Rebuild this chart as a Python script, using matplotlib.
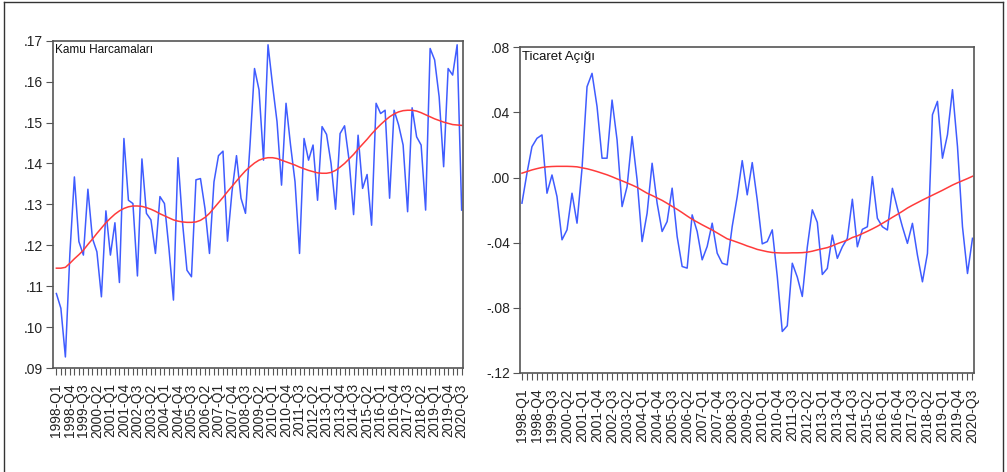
import matplotlib
matplotlib.use('Agg')
import matplotlib.pyplot as plt
from matplotlib.lines import Line2D
import numpy as np

plt.rcParams['font.family'] = ['Liberation Sans', 'DejaVu Sans']

quarters = [f"{y}-Q{q}" for y in range(1998, 2021) for q in range(1, 5)][:91]

kamu = [.1082, .1046, .0927, .1180, .1367, .1209, .1176, .1337, .1217, .1184,
        .1074, .1284, .1176, .1255, .1109, .1461, .1310, .1302, .1125, .1411,
        .1278, .1262, .1180, .1319, .1302, .1192, .1066, .1414, .1257, .1139,
        .1123, .1360, .1363, .1290, .1180, .1355, .1419, .1430, .1210, .1331,
        .1419, .1315, .1278, .1445, .1632, .1580, .1408, .1690, .1592, .1502,
        .1347, .1547, .1445, .1355, .1180, .1461, .1408, .1445, .1310, .1490,
        .1471, .1400, .1288, .1473, .1492, .1408, .1275, .1469, .1339, .1373,
        .1249, .1547, .1522, .1530, .1315, .1530, .1494, .1445, .1282, .1536,
        .1465, .1445, .1286, .1681, .1653, .1563, .1392, .1632, .1616, .1690,
        .1286]

kamu_trend = [.1144, .1144, .1146, .1156, .1167, .1177, .1188, .1202, .1215, .1229,
              .1242, .1255, .1266, .1276, .1284, .1290, .1294, .1296, .1296, .1295,
              .1292, .1288, .1283, .1277, .1272, .1267, .1262, .1259, .1257, .1256,
              .1256, .1257, .1261, .1268, .1278, .1291, .1304, .1317, .1331, .1344,
              .1357, .1370, .1382, .1392, .1401, .1408, .1412, .1414, .1414, .1412,
              .1408, .1404, .1400, .1396, .1391, .1387, .1383, .1380, .1377, .1376,
              .1376, .1378, .1383, .1391, .1400, .1411, .1422, .1435, .1447, .1459,
              .1472, .1484, .1495, .1505, .1514, .1521, .1526, .1529, .1530, .1530,
              .1528, .1524, .1519, .1514, .1509, .1505, .1501, .1498, .1495, .1494,
              .1493]

ticaret = [-.0157, .0027, .0190, .0241, .0262, -.0096, .0016, -.0117, -.0382, -.0321,
           -.0096, -.0280, .0057, .0558, .0640, .0436, .0119, .0119, .0476, .0231,
           -.0178, -.0055, .0252, -.0014, -.0393, -.0219, .0088, -.0157, -.0331, -.0270,
           -.0065, -.0362, -.0546, -.0556, -.0229, -.0331, -.0505, -.0423, -.0280, -.0464,
           -.0526, -.0536, -.0300, -.0117, .0104, -.0106, .0092, -.0137, -.0407, -.0393,
           -.0321, -.0607, -.0945, -.0910, -.0526, -.0611, -.0730, -.0427, -.0198, -.0275,
           -.0595, -.0558, -.0353, -.0496, -.0425, -.0373, -.0133, -.0425, -.0318, -.0302,
           .0006, -.0250, -.0302, -.0322, -.0066, -.0189, -.0302, -.0404, -.0281, -.0476,
           -.0640, -.0466, .0386, .0468, .0119, .0263, .0540, .0191, -.0302, -.0589,
           -.0373]

ticaret_trend = [.0027, .0037, .0047, .0055, .0062, .0066, .0068, .0069, .0069, .0069,
                 .0068, .0066, .0060, .0054, .0046, .0037, .0027, .0017, .0005, -.0008,
                 -.0020, -.0033, -.0046, -.0060, -.0078, -.0096, -.0110, -.0125, -.0140, -.0158,
                 -.0177, -.0195, -.0215, -.0236, -.0256, -.0273, -.0290, -.0306, -.0322, -.0340,
                 -.0358, -.0376, -.0386, -.0397, -.0408, -.0420, -.0430, -.0441, -.0448, -.0455,
                 -.0460, -.0462, -.0463, -.0463, -.0462, -.0462, -.0461, -.0458, -.0452, -.0444,
                 -.0437, -.0430, -.0419, -.0406, -.0395, -.0384, -.0368, -.0358, -.0344, -.0330,
                 -.0315, -.0299, -.0281, -.0263, -.0244, -.0226, -.0207, -.0187, -.0170, -.0154,
                 -.0138, -.0123, -.0108, -.0093, -.0078, -.0062, -.0046, -.0032, -.0019, -.0006,
                 .0008]

kamu_yticks = [.09, .10, .11, .12, .13, .14, .15, .16, .17]
kamu_ylabels = ['.09', '.10', '.11', '.12', '.13', '.14', '.15', '.16', '.17']
ticaret_yticks = [-.12, -.08, -.04, .00, .04, .08]
ticaret_ylabels = ['-.12', '-.08', '-.04', '.00', '.04', '.08']

W, H = 1007, 472
fig = plt.figure(figsize=(W / 100, H / 100), dpi=100)

BLUE = '#3f5cff'
RED = '#ff3b3b'
SPINE = '#555555'


def box(l, t, r, b):
    return [l / W, 1 - b / H, (r - l) / W, (b - t) / H]


def panel(rect, series, trend, yticks, ylabels, ylim, xlim, title, tsize):
    ax = fig.add_axes(rect)
    x = np.arange(len(series))
    ax.plot(x, series, color=BLUE, lw=1.1)
    ax.plot(x, trend, color=RED, lw=1.1)
    ax.set_xlim(*xlim)
    ax.set_ylim(*ylim)
    ax.set_yticks(yticks)
    ax.set_yticklabels(ylabels, fontsize=10, color='#222222')
    ax.set_xticks(x[::3])
    ax.set_xticklabels(quarters[::3], rotation=90, fontsize=10, color='#222222')
    ax.set_xticks(x, minor=True)
    ax.tick_params(axis='x', which='both', direction='out', length=5, width=0.8,
                   color=SPINE, pad=6)
    ax.tick_params(axis='y', direction='out', length=5, width=0.8, color=SPINE, pad=2)
    for s in ax.spines.values():
        s.set_color(SPINE)
        s.set_linewidth(1.2)
    ax.text(0.005, 0.99, title, transform=ax.transAxes, ha='left', va='top',
            fontsize=tsize, color='#111111')
    return ax


panel(box(53, 40.7, 463, 368), kamu, kamu_trend, kamu_yticks, kamu_ylabels,
      (.09, .17), (-0.75, 90.3), 'Kamu Harcamaları', 8.5)
panel(box(519.7, 47.3, 974, 373), ticaret, ticaret_trend, ticaret_yticks, ticaret_ylabels,
      (-.12, .08), (-0.45, 90.3), 'Ticaret Açığı', 9.5)

# outer frame
for xs, ys in [((4, 4), (2, 472)), ((4, 1003), (2, 2)), ((1003, 1003), (2, 472))]:
    fig.add_artist(Line2D([v / W for v in xs], [1 - v / H for v in ys],
                          color='#333333', lw=1.0))

fig.savefig('out.png', dpi=100, facecolor='white')
